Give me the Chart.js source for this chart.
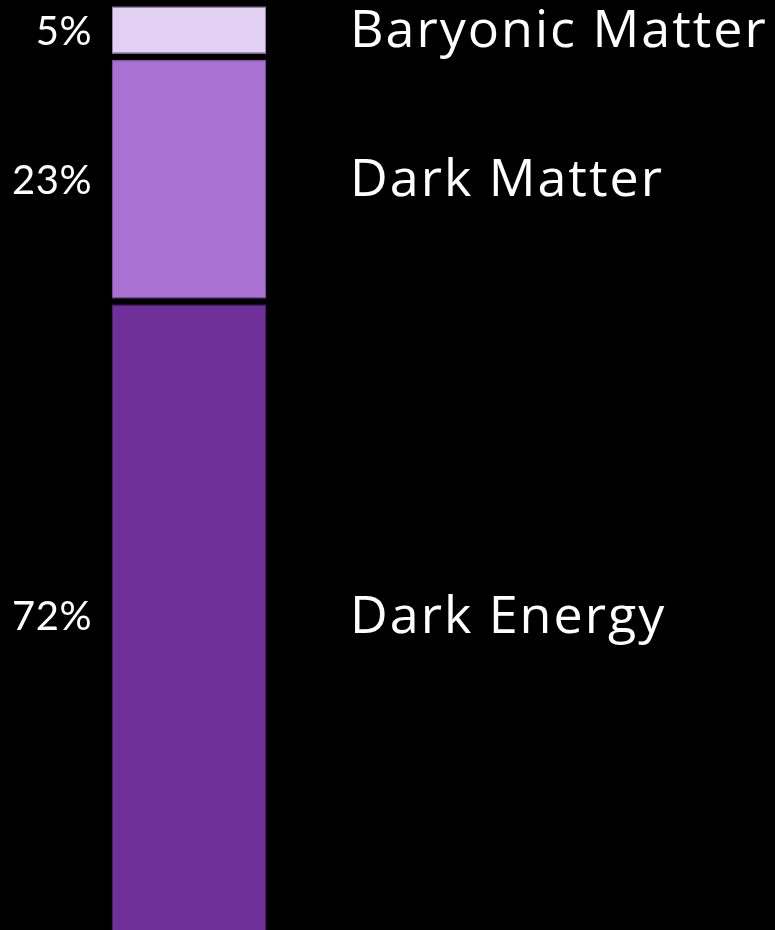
<!DOCTYPE html>
<html>
<head>
<meta charset="utf-8">
<script src="https://cdn.jsdelivr.net/npm/chart.js@4"></script>
<style>
  html, body { margin: 0; padding: 0; background: #000; }
  #wrap { width: 775px; height: 930px; position: relative; }
</style>
</head>
<body>
<div id="wrap"><canvas id="c"></canvas></div>
<script>
// Data (bottom to top of the stack)
const categories = ['Universe'];
const seriesNames = ['Dark Energy', 'Dark Matter', 'Baryonic Matter'];
const seriesValues = [72, 23, 5];
const percentLabels = ['72%', '23%', '5%'];
const fillColors = ['#70309A', '#A971D1', '#E2D1F2'];
const edgeColors = ['#4E1E6E', '#7A4A9C', '#9A7FB5'];

const labelPlugin = {
  id: 'segLabels',
  afterDatasetsDraw(chart) {
    const ctx = chart.ctx;
    const area = chart.chartArea;
    ctx.save();
    chart.data.datasets.forEach((ds, i) => {
      const meta = chart.getDatasetMeta(i);
      meta.data.forEach((el) => {
        const p = el.getProps(['x', 'y', 'base', 'width'], true);
        const top = Math.min(p.y, p.base), bot = Math.max(p.y, p.base);
        const bw = ds.borderWidth;
        const l = p.x - p.width / 2, r = p.x + p.width / 2;
        const it = top + bw.top, ib = bot - bw.bottom;
        ctx.save();
        ctx.beginPath();
        ctx.rect(area.left, area.top, area.right - area.left, area.bottom - area.top);
        ctx.clip();
        ctx.strokeStyle = edgeColors[i];
        ctx.lineWidth = 1;
        ctx.strokeRect(l + 0.5, it + 0.5, r - l - 1, ib - it - 1);
        ctx.restore();
        const vt = Math.max(top, area.top), vb = Math.min(bot, chart.height);
        const cy = (vt + vb) / 2;
        ctx.fillStyle = '#ffffff';
        ctx.textBaseline = 'middle';
        ctx.letterSpacing = '0.5px';
        ctx.font = '40px Lato';
        ctx.textAlign = 'right';
        ctx.fillText(percentLabels[i], 92, cy + 1);
        ctx.font = '52px "Open Sans"';
        ctx.letterSpacing = '2px';
        ctx.textAlign = 'left';
        ctx.fillText(seriesNames[i], 350, cy + 2);
      });
    });
    ctx.restore();
  }
};

new Chart(document.getElementById('c'), {
  type: 'bar',
  data: {
    labels: categories,
    datasets: seriesNames.map((name, i) => ({
      label: name,
      data: [seriesValues[i]],
      backgroundColor: fillColors[i],
      borderColor: '#000000',
      borderWidth: { top: 3, bottom: 4, left: 0, right: 0 },
      borderSkipped: false,
      barPercentage: 1,
      categoryPercentage: 1
    }))
  },
  options: {
    responsive: true,
    maintainAspectRatio: false,
    animation: false,
    devicePixelRatio: 1,
    layout: { padding: { left: 112, right: 509, top: 4, bottom: 0 } },
    plugins: { legend: { display: false }, tooltip: { enabled: false } },
    scales: {
      x: { stacked: true, display: false },
      y: { stacked: true, display: false, min: 13, max: 100 }
    }
  },
  plugins: [labelPlugin]
});
</script>
</body>
</html>
